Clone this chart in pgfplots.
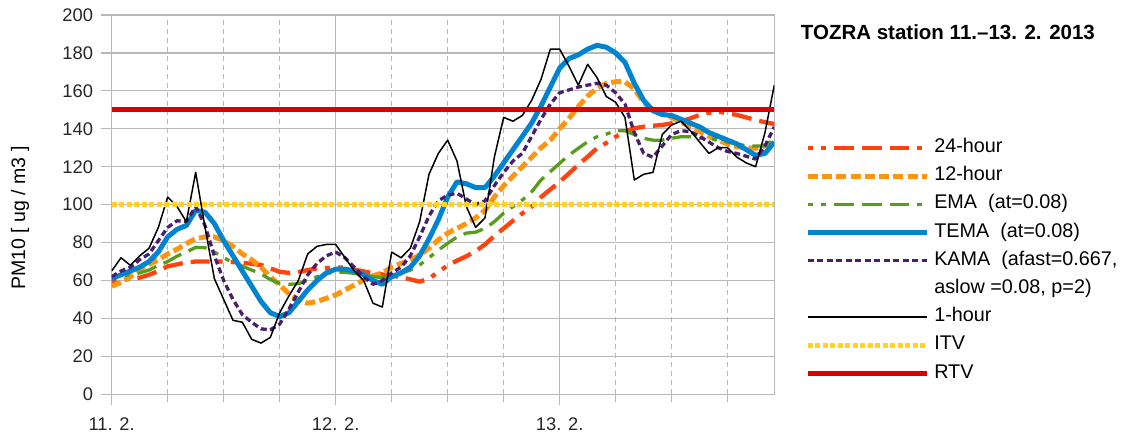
\documentclass[border=0pt]{standalone}
\usepackage{fontspec}
\setmainfont{Liberation Sans}
\usepackage{pgfplots}
\pgfplotsset{compat=1.18}
\usepackage{pgfplotstable}
\definecolor{cA}{HTML}{FF420E}
\definecolor{cB}{HTML}{FF950E}
\definecolor{cC}{HTML}{579D1C}
\definecolor{cD}{HTML}{0084D1}
\definecolor{cE}{HTML}{4B1F6F}
\definecolor{cITV}{HTML}{FFD320}
\definecolor{cRTV}{HTML}{DD0000}
\definecolor{gridgray}{HTML}{B8B8B8}
\pgfplotstableread{
h h24 h12 ema tema kama h1
0 59.4 57 62 61 62 65
1 60 59 62.5 63 65 72
2 61 62 63 65 67 68
3 61.5 66 64 67 71 73
4 63 68.5 65.5 70 74 77
5 65 71 68 75 81 88
6 67.5 74 70 83 88 104
7 68.5 76.5 72.8 87 91.5 99
8 69.5 79.5 75 89 91 91
9 70 82 77.5 97 99 117
10 70 83 77.3 96 89 88
11 70 83 75 90 73 61
12 70 81 72 81 60 50
13 69.7 78 69.5 73 50 39
14 69.3 74 67.5 65 42 38
15 68.8 71 65.5 57 38 29
16 68.2 67 63.5 49 34.5 27
17 66.4 62 60.5 43 34 30
18 64.6 57.6 58.5 41 37 43
19 64 53 58 43 45 52
20 64.4 50 58.3 49 54 60
21 65.5 48 60 55 63 74
22 66.4 49 62 60 69 78
23 66.6 50.6 63.8 64 73 79
24 66.8 52.4 64.3 66 75 79
25 66.8 55 64.3 66 72 72
26 65.8 57.6 63.8 65 67 65
27 64.8 60.3 62.9 63 62 60
28 63.8 62.5 62 60 58 48
29 63.2 64 61.5 58 60 46
30 62.5 67 62 62 64 75
31 61.8 69 63.8 64 67 72
32 60.6 70.8 65.5 67 73 77
33 59.4 73.5 68.2 73 83 91
34 61 77 72 82 94 116
35 64.5 81.4 76 92 102 127
36 68 85 79.6 104 105 134
37 70.5 87.5 83 112 106 123
38 72.8 90 85 111 103 99
39 75.5 93 85.5 109 100 88
40 79 97 87.5 109 102 93
41 83.5 104 91 115 110 125
42 87.5 110 95.5 122 117 146
43 91.5 115 99 129 123 144
44 95.4 120 102.4 136 127 147
45 98.9 125 106.8 143 136 155
46 104 130 113 152 145 166
47 108 134 117.4 162 153 182
48 112 140 121.8 172 159 182
49 116.5 145.5 126.2 177 160.5 173
50 121 151.7 129.7 179 162 163
51 125.3 157.3 133.2 182 163 174
52 129.7 161.3 135.8 184 164 167
53 132.5 164 137.2 183 163 157
54 135.8 164.8 139 180 159 154
55 138.5 164.8 139 175 153 146
56 140.3 161 137 164 138 113
57 141.1 154 135 155 127 116
58 141.6 150 134 149.5 125 117
59 142 148 134 147.5 131 137
60 142.9 146 135 147 137 142
61 143.9 143.7 135.8 145 139 144
62 145.5 141 135.8 143 138.5 139
63 147.3 138.5 135 141 136 133
64 148.4 136 135 138 133 127
65 149 134 134 136 130 130
66 148.2 132 133 134 128 130
67 147.3 130.5 132 132 127 125
68 146 130 131 129 125.5 122
69 144.6 129.7 130.9 126 124 120
70 143.5 131 131 127 131 138
71 142.5 134 134 133 141 163
}\data
\begin{document}
\begin{tikzpicture}
\useasboundingbox (0,0) rectangle (1133pt,438pt);
\begin{axis}[
  at={(111.7pt,43.7pt)}, anchor=south west,
  scale only axis, width=662.6pt, height=379.3pt,
  xmin=0, xmax=71, ymin=0, ymax=200,
  xtick={0,24,48}, xticklabels={11. 2., 12. 2., 13. 2.},
  minor xtick={6,12,18,30,36,42,54,60,66},
  ytick={0,20,...,200},
  tick pos=left, tick align=outside,
  major tick length=10.5pt, minor tick length=8pt,
  tick style={gridgray, line width=1.2pt},
  axis line style={gridgray, line width=1.2pt},
  grid=both,
  major grid style={gridgray, line width=1.2pt},
  minor grid style={gridgray, line width=1.2pt, dash pattern=on 5pt off 4pt},
  /pgf/number format/assume math mode=true,
  tick label style={font=\fontsize{18.3}{20}\selectfont, text=black!85},
  xticklabel style={inner sep=0pt, yshift=-13pt},
  yticklabel style={inner sep=0pt, xshift=-8pt},
  ylabel={PM10 [ ug / m3 ]},
  every axis y label/.style={at={(axis description cs:-0.1384,0.465)}, rotate=90, anchor=center, font=\fontsize{19.5}{22}\selectfont},
  legend image code/.code={\draw[#1] (0pt,0pt) -- (119pt,0pt);},
  legend cell align=left,
  legend style={draw=none, fill=none, inner sep=0pt, outer sep=0pt,
    row sep=11.2pt, column sep=5pt,
    font=\fontsize{19.8}{22}\selectfont,
    nodes={inner sep=0pt, text height=13pt, text depth=4pt},
    at={(axis description cs:1.0463,0.6718)}, anchor=north west},
  every axis plot/.append style={line join=round},
]
\addplot[cA, line width=4.3pt, dash pattern=on 5pt off 8pt on 5pt off 8pt on 20pt off 8pt on 20pt off 8pt on 19pt off 8pt] table[x=h, y=h24] {\data};
\addlegendentry{24-hour}
\addplot[cB, line width=5pt, dash pattern=on 10pt off 4.3pt] table[x=h, y=h12] {\data};
\addlegendentry{12-hour}
\addplot[cC, line width=3.3pt, dash pattern=on 5pt off 8pt on 5pt off 8pt on 20pt off 8pt on 20pt off 8pt on 19pt off 8pt] table[x=h, y=ema] {\data};
\addlegendentry{EMA\ \ (at=0.08)}
\addplot[cD, line width=5pt] table[x=h, y=tema] {\data};
\addlegendentry{TEMA\ \ (at=0.08)}
\addplot[cE, line width=3.3pt, dash pattern=on 6pt off 3.5pt] table[x=h, y=kama] {\data};
\addlegendentry{KAMA\ \ (afast=0.667,}
\addlegendimage{empty legend}
\addlegendentry{aslow =0.08, p=2)}
\addplot[black, line width=1.5pt] table[x=h, y=h1] {\data};
\addlegendentry{1-hour}
\addplot[cITV, line width=5pt, dash pattern=on 5pt off 2.5pt] coordinates {(0,100) (71,100)};
\addlegendentry{ITV}
\addplot[cRTV, line width=5.3pt] coordinates {(0,150) (71,150)};
\addlegendentry{RTV}
\end{axis}
\node[anchor=base west, inner sep=0pt, font=\bfseries\fontsize{20.5}{23}\selectfont] at (800.7pt,398pt) {TOZRA station 11.–13. 2. 2013};
\end{tikzpicture}
\end{document}
